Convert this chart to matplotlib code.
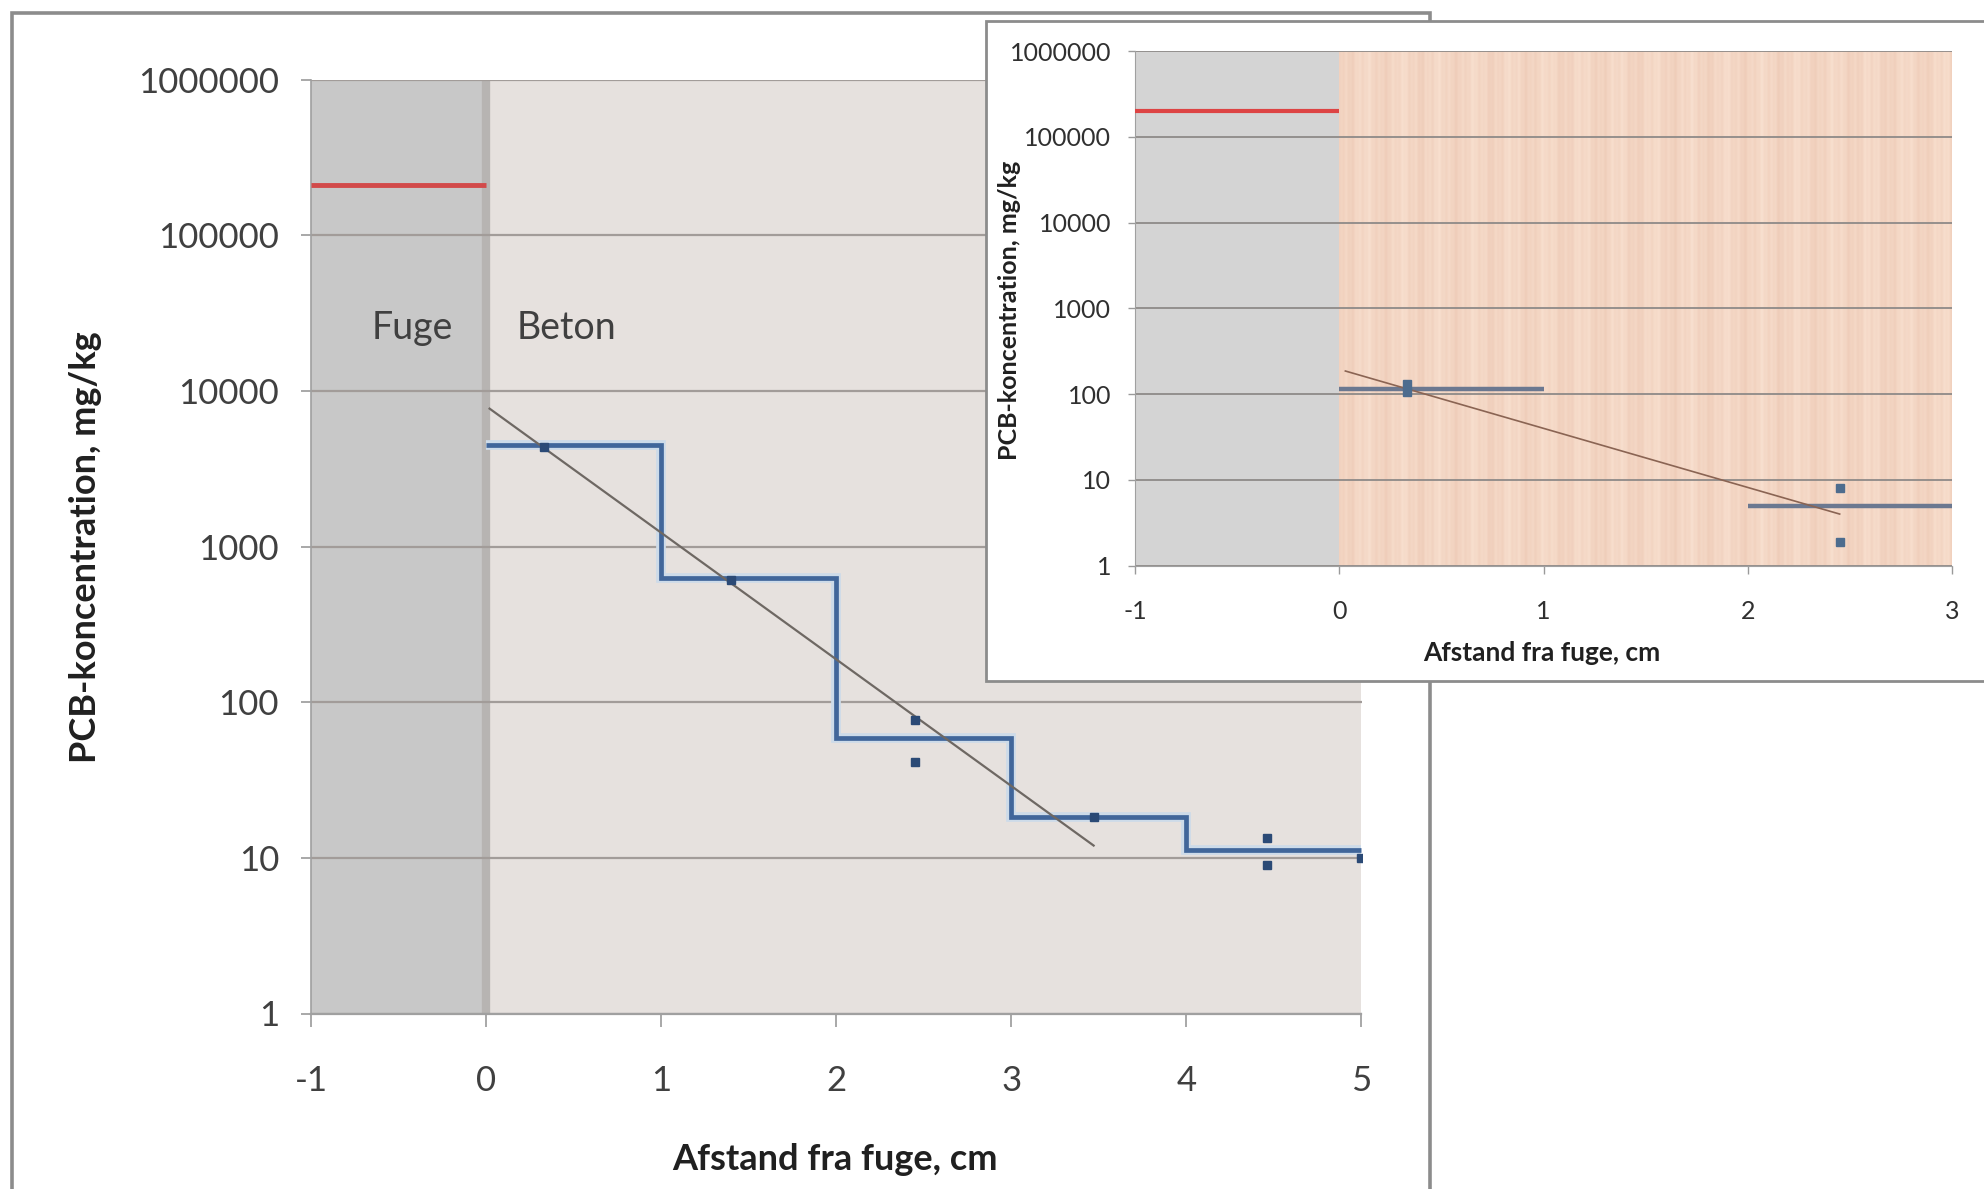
import matplotlib
matplotlib.use("Agg")
import matplotlib.pyplot as plt
from matplotlib.patches import Rectangle
import numpy as np

plt.rcParams['font.family'] = ['Lato', 'DejaVu Sans']

# ---------------- data: main chart (concrete) ----------------
main_step_edges = [0, 1, 2, 3, 4, 5]
main_step_values = [4500, 625, 58.5, 18.3, 11.3]
main_points_x = [0.33, 1.40, 2.45, 2.45, 3.47, 4.46, 4.46, 5.0]
main_points_y = [4380, 610, 77, 41, 18.3, 13.5, 9.0, 10.0]
main_trend_x = [0.02, 3.47]
main_trend_y = [7700, 12]
main_red_x = [-1, 0]
main_red_y = [210000, 210000]

# ---------------- data: inset chart (wood) ----------------
inset_step1_x = [0, 1]
inset_step1_y = [116, 116]
inset_step2_x = [2, 3]
inset_step2_y = [4.9, 4.9]
inset_points_x = [0.33, 0.33, 2.45, 2.45]
inset_points_y = [130, 105, 8.0, 1.9]
inset_trend_x = [0.03, 2.45]
inset_trend_y = [186, 4.0]
inset_red_x = [-1, 0]
inset_red_y = [200000, 200000]

ytick_vals = [1, 10, 100, 1000, 10000, 100000, 1000000]
ytick_labels = ['1', '10', '100', '1000', '10000', '100000', '1000000']
main_xticks = [-1, 0, 1, 2, 3, 4, 5]
inset_xticks = [-1, 0, 1, 2, 3]

W, H = 1984, 1189
fig = plt.figure(figsize=(W / 100, H / 100), dpi=100)

def fx(px):
    return px / W

def fy(py):
    return 1 - py / H

# outer frame of main chart
frame = Rectangle((fx(12), fy(1260)), fx(1430 - 12), (1260 - 13) / H,
                  transform=fig.transFigure, facecolor='white',
                  edgecolor='#8c8c8c', lw=2.6, zorder=-1)
fig.patches.append(frame)

# ---------------- main axes ----------------
ax = fig.add_axes([fx(311), fy(1013.5), fx(1361.5 - 311), (1013.5 - 79.7) / H])
ax.set_zorder(0)
ax.set_yscale('log')
ax.set_xlim(-1, 5)
ax.set_ylim(1, 1e6)
ax.set_facecolor('none')
ax.axvspan(-1, 0, color='#c8c8c8', zorder=0, lw=0)
ax.axvspan(0, 5, color='#e6e1de', zorder=0, lw=0)
ax.axvline(0, color='#b7b4b2', lw=6, zorder=0.5)
for v in ytick_vals:
    ax.axhline(v, color='#a29c99', lw=1.6, zorder=1)

ax.plot(main_red_x, main_red_y, color='#d24a4a', lw=3.5, zorder=3, solid_capstyle='butt')
ax.stairs(main_step_values, main_step_edges, color='#cddbe9', lw=7, zorder=2, baseline=None)
ax.stairs(main_step_values, main_step_edges, color='#41669a', lw=3.4, zorder=3, baseline=None)
ax.plot(main_trend_x, main_trend_y, color='#6e6863', lw=1.6, zorder=4)
ax.plot(main_points_x, main_points_y, ls='none', marker='s', ms=6,
        color='#2b4a76', zorder=5)

ax.set_yticks(ytick_vals)
ax.set_yticklabels(ytick_labels)
ax.yaxis.set_minor_locator(matplotlib.ticker.NullLocator())
ax.set_xticks(main_xticks)
ax.set_xticklabels([str(v) for v in main_xticks])
ax.tick_params(axis='y', length=7, width=1.2, color='#9a9a9a', pad=16,
               labelsize=25, labelcolor='#404040')
ax.tick_params(axis='x', length=9, width=1.2, color='#9a9a9a', pad=28,
               labelsize=25, labelcolor='#404040')
for s in ['top', 'right']:
    ax.spines[s].set_visible(False)
ax.spines['left'].set_color('#a0a0a0')
ax.spines['bottom'].set_color('#a0a0a0')
ax.spines['left'].set_linewidth(1.2)
ax.spines['bottom'].set_linewidth(1.6)

ax.text(0.096, 0.734, 'Fuge', transform=ax.transAxes, ha='center', va='center',
        fontsize=27, color='#404040', zorder=6)
ax.text(0.243, 0.734, 'Beton', transform=ax.transAxes, ha='center', va='center',
        fontsize=27, color='#404040', zorder=6)

fig.text(fx(835), fy(1160), 'Afstand fra fuge, cm', ha='center', va='center',
         fontsize=26, fontweight='bold', color='#202020')
fig.text(fx(86), fy(547), 'PCB-koncentration, mg/kg', ha='center', va='center',
         rotation=90, fontsize=26, fontweight='bold', color='#202020')

# ---------------- inset box ----------------
box = Rectangle((fx(986), fy(681)), fx(2010 - 986), (681 - 21) / H,
                transform=fig.transFigure, facecolor='white',
                edgecolor='#8c8c8c', lw=2.0, zorder=1)
fig.patches.append(box)

ai = fig.add_axes([fx(1135), fy(565.7), fx(1952 - 1135), (565.7 - 51) / H])
ai.set_zorder(2)
ai.set_yscale('log')
ai.set_facecolor('none')
ai.axvspan(-1, 0, color='#d4d4d4', zorder=0, lw=0)

# wood-grain background (decorative, deterministic stripes)
cols = np.linspace(0, 1, 620)
grain = (0.50 + 0.20 * np.sin(2 * np.pi * cols * 17.0)
         + 0.16 * np.sin(2 * np.pi * cols * 53.0 + 1.0)
         + 0.12 * np.sin(2 * np.pi * cols * 131.0 + 2.0))
grain = np.clip(grain, 0, 1)
light = np.array([0.975, 0.880, 0.815])
dark = np.array([0.925, 0.780, 0.700])
img = light[None, :] * (1 - grain[:, None] * 0.8) + dark[None, :] * (grain[:, None] * 0.8)
img = img[None, :, :]
ai.imshow(img, extent=[0.25, 1.0, 0, 1], transform=ai.transAxes,
          aspect='auto', zorder=0, interpolation='bilinear')

ai.set_xlim(-1, 3)
ai.set_ylim(1, 1e6)
for v in ytick_vals:
    ai.axhline(v, color='#8e8a88', lw=1.3, zorder=1)

ai.plot(inset_red_x, inset_red_y, color='#dd4444', lw=3, zorder=3, solid_capstyle='butt')
ai.plot(inset_step1_x, inset_step1_y, color='#6b7890', lw=3.2, zorder=3, solid_capstyle='butt')
ai.plot(inset_step2_x, inset_step2_y, color='#6b7890', lw=3.2, zorder=3, solid_capstyle='butt')
ai.plot(inset_trend_x, inset_trend_y, color='#8a6453', lw=1.2, zorder=4)
ai.plot(inset_points_x, inset_points_y, ls='none', marker='s', ms=6,
        color='#4d6c8e', zorder=5)

ai.set_yticks(ytick_vals)
ai.set_yticklabels(ytick_labels)
ai.yaxis.set_minor_locator(matplotlib.ticker.NullLocator())
ai.set_xticks(inset_xticks)
ai.set_xticklabels([str(v) for v in inset_xticks])
ai.tick_params(axis='y', length=5, width=1.0, color='#9a9a9a', pad=12,
               labelsize=18, labelcolor='#303030')
ai.tick_params(axis='x', length=6, width=1.0, color='#9a9a9a', pad=19,
               labelsize=18, labelcolor='#303030')
for s in ['top', 'right']:
    ai.spines[s].set_visible(False)
ai.spines['left'].set_color('#a0a0a0')
ai.spines['bottom'].set_color('#a0a0a0')

fig.text(fx(1542), fy(653), 'Afstand fra fuge, cm', ha='center', va='center',
         fontsize=19, fontweight='bold', color='#202020')
fig.text(fx(1010), fy(310), 'PCB-koncentration, mg/kg', ha='center', va='center',
         rotation=90, fontsize=18, fontweight='bold', color='#202020')

fig.savefig('out.png', dpi=100)
